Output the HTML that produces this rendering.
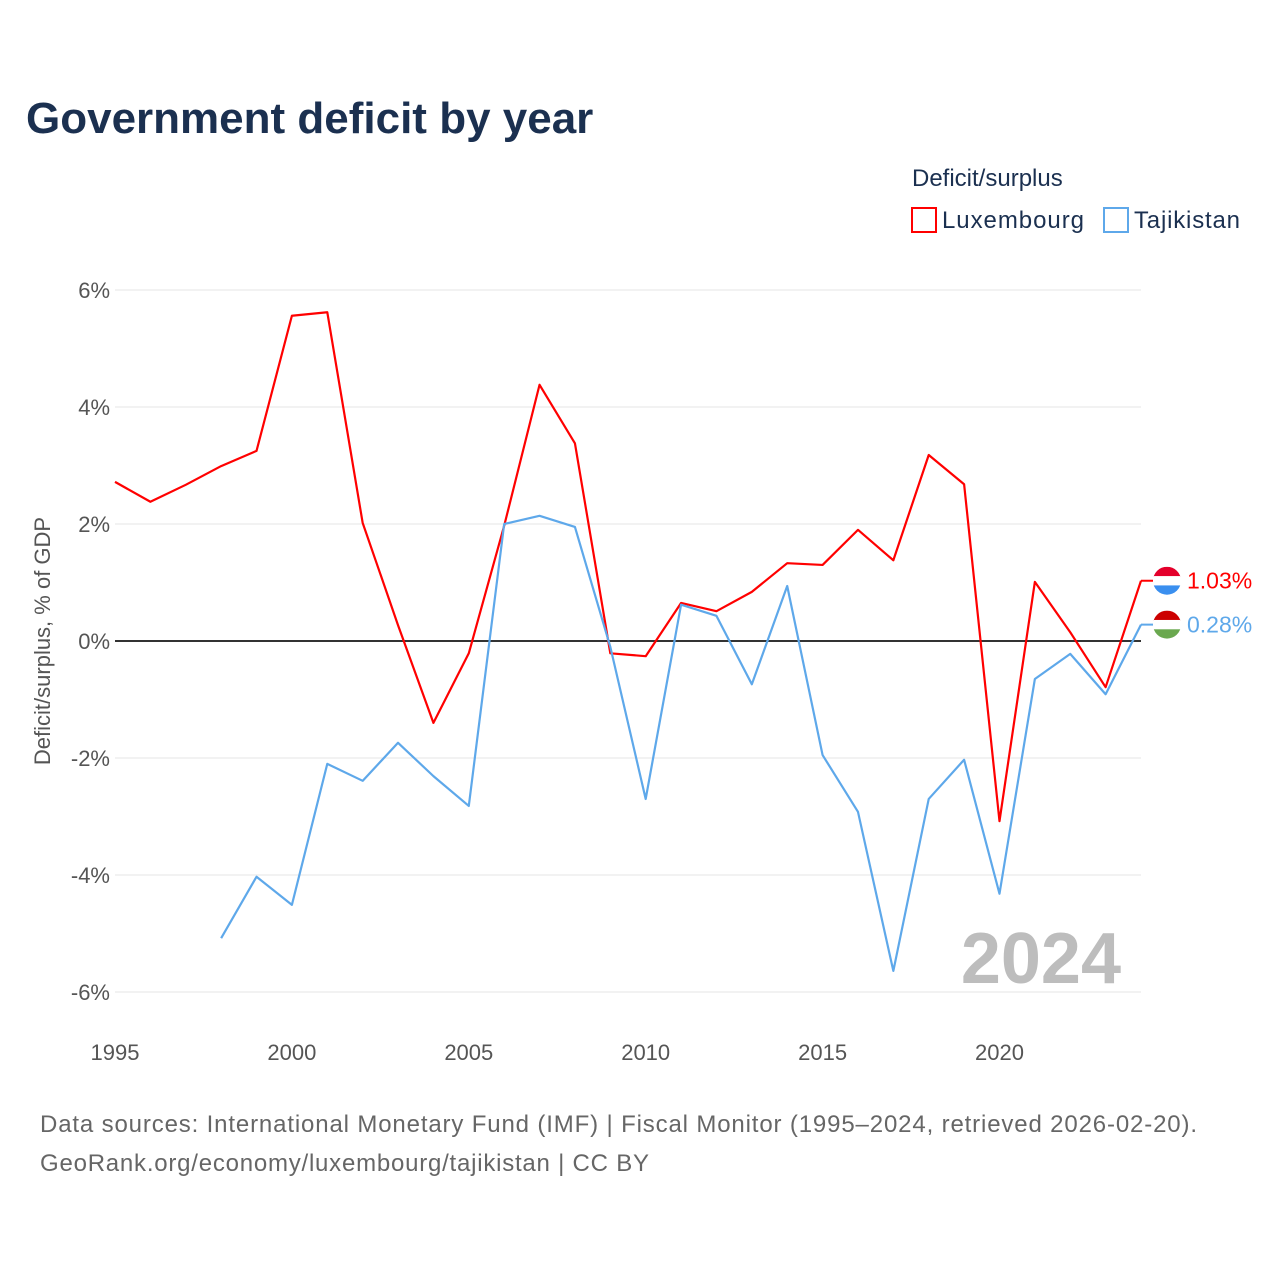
<!DOCTYPE html>
<html><head><meta charset="utf-8">
<style>
body{margin:0;background:#fff;font-family:"Liberation Sans",sans-serif;}
svg text{font-family:"Liberation Sans",sans-serif;}
</style></head>
<body>
<svg id="chart" width="1280" height="1280" viewBox="0 0 1280 1280" xmlns="http://www.w3.org/2000/svg">
<rect width="1280" height="1280" fill="#fff"/>
<text x="26" y="133" font-size="44" font-weight="bold" fill="#1b3050">Government deficit by year</text>
<text x="912" y="186" font-size="24" fill="#1b3050">Deficit/surplus</text>
<g><rect x="912" y="208" width="24" height="24" fill="none" stroke="#ff0000" stroke-width="2"/><text x="942" y="228" font-size="24" fill="#1b3050" textLength="142">Luxembourg</text></g>
<g><rect x="1104" y="208" width="24" height="24" fill="none" stroke="#5ea8ea" stroke-width="2"/><text x="1134" y="228" font-size="24" fill="#1b3050" textLength="106">Tajikistan</text></g>
<text transform="translate(50,641) rotate(-90)" text-anchor="middle" font-size="22" fill="#555">Deficit/surplus, % of GDP</text>
<g id="grid"></g><g id="axes"></g><g id="series"></g>
<text x="1121" y="983" text-anchor="end" font-size="72" font-weight="bold" fill="#bdbdbd">2024</text>
<text x="40" y="1132" font-size="24" fill="#666" textLength="1157">Data sources: International Monetary Fund (IMF) | Fiscal Monitor (1995–2024, retrieved 2026-02-20).</text>
<text x="40" y="1171" font-size="24" fill="#666" textLength="609">GeoRank.org/economy/luxembourg/tajikistan | CC BY</text>
</svg>
<script>
const luxYears = [1995,1996,1997,1998,1999,2000,2001,2002,2003,2004,2005,2006,2007,2008,2009,2010,2011,2012,2013,2014,2015,2016,2017,2018,2019,2020,2021,2022,2023,2024];
const luxValues = [2.72,2.38,2.67,2.99,3.25,5.56,5.62,2.02,0.27,-1.40,-0.21,1.97,4.38,3.38,-0.21,-0.26,0.65,0.51,0.84,1.33,1.30,1.90,1.38,3.18,2.68,-3.08,1.01,0.15,-0.79,1.03];
const tjkYears = [1998,1999,2000,2001,2002,2003,2004,2005,2006,2007,2008,2009,2010,2011,2012,2013,2014,2015,2016,2017,2018,2019,2020,2021,2022,2023,2024];
const tjkValues = [-5.08,-4.03,-4.51,-2.10,-2.39,-1.74,-2.31,-2.82,2.00,2.14,1.95,-0.10,-2.70,0.62,0.43,-0.74,0.94,-1.95,-2.92,-5.64,-2.70,-2.03,-4.32,-0.65,-0.22,-0.91,0.28];
const yTicks = [6,4,2,0,-2,-4,-6];
const xTicks = [1995,2000,2005,2010,2015,2020];

const NS="http://www.w3.org/2000/svg";
const x = yr => 115 + (yr-1995)*(1141-115)/29;
const y = v => 641 - v*58.5;
function mk(tag, attrs, parent){const e=document.createElementNS(NS,tag);for(const k in attrs)e.setAttribute(k,attrs[k]);parent.appendChild(e);return e;}
const grid=document.getElementById('grid'), axes=document.getElementById('axes'), series=document.getElementById('series');
yTicks.forEach(t=>{
  const l=mk('line',{x1:115,x2:1141,y1:y(t),y2:y(t),stroke:t===0?'#333':'#e6e6e6','stroke-width':t===0?2:1},grid);
  
  
  const tx=mk('text',{x:110,y:y(t)+8,'text-anchor':'end','font-size':22,fill:'#555'},axes);
  tx.textContent=t+'%';
  
  
});
xTicks.forEach(t=>{
  const tx=mk('text',{x:x(t),y:1060,'text-anchor':'middle','font-size':22,fill:'#555'},axes);
  tx.textContent=t;
  
  
});
function line(years, vals, color, name){
  const p=mk('polyline',{points:years.map((yr,i)=>x(yr)+','+y(vals[i])).join(' '),fill:'none',stroke:color,'stroke-width':2.2,'stroke-linejoin':'round'},series);
  
  
}
line(luxYears,luxValues,'#ff0000','luxembourg');
line(tjkYears,tjkValues,'#5ea8ea','tajikistan');
function endLabel(yr,v,color,flag,name){
  const cx=x(yr)+26, cy=y(v);
  const g=mk('g',{},series);
  
  
  mk('line',{x1:x(yr),x2:cx-14,y1:cy,y2:cy,stroke:color,'stroke-width':2},g);
  const cp=mk('clipPath',{id:'cp'+name},g);
  mk('circle',{cx:cx,cy:cy,r:14},cp);
  const fg=mk('g',{'clip-path':'url(#cp'+name+')'},g);
  flag.forEach((c,i)=>mk('rect',{x:cx-14,y:cy-14+i*28/3,width:28,height:28/3+0.5,fill:c},fg));
  const t=mk('text',{x:cx+20,y:cy+8,'font-size':23,fill:color},g);
  t.textContent=v.toFixed(2)+'%';
}
endLabel(luxYears[luxYears.length-1],luxValues[luxValues.length-1],'#ff0000',['#e4002b','#ffffff','#3a8fef'],'luxembourg');
endLabel(tjkYears[tjkYears.length-1],tjkValues[tjkValues.length-1],'#5ea8ea',['#cc0000','#ffffff','#6aa84f'],'tajikistan');
</script>
</body></html>
